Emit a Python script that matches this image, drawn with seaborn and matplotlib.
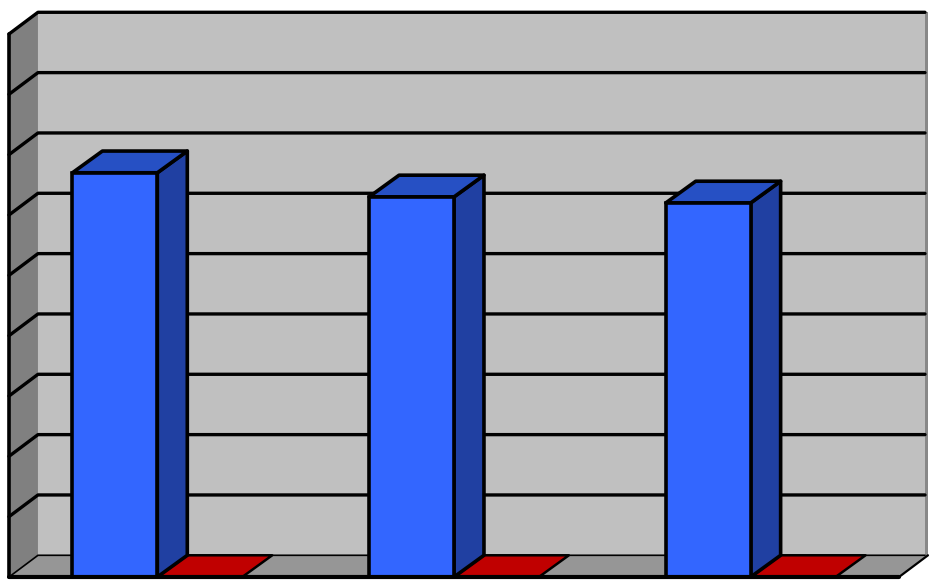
import numpy as np
import pandas as pd
import seaborn as sns
import matplotlib.pyplot as plt

categories = ['A', 'B', 'C']
blue_values = [6.7, 6.3, 6.2]
red_values = [0, 0, 0]
y_ticks = list(range(0, 10))

df = pd.DataFrame({
    'category': categories * 2,
    'series': ['blue'] * 3 + ['red'] * 3,
    'value': blue_values + red_values,
})

W, H = 942, 586
# 3d offset of the back plane, in data units
DX = 30 / 297
DY = 21.7 / 60.3
WALL_DX = 29 / 297

BLUE = '#3366ff'
BLUE_TOP = '#2650c4'
BLUE_SIDE = '#2040a2'
RED_TOP = '#c00000'

sns.set_theme(style='white')
fig = plt.figure(figsize=(W / 100, H / 100), dpi=100, facecolor='white')
ax = fig.add_axes([9 / W, 1 - 577 / H, 890 / W, 543 / H])
ax.set_facecolor('none')


def poly(xs, ys, color, lw=2.6, z=3, edge='black'):
    ax.fill(xs, ys, facecolor=color, edgecolor=edge, linewidth=lw, zorder=z,
            clip_on=False, joinstyle='round')


x0, x1 = -0.5, 2.5
y0, y1 = y_ticks[0], y_ticks[-1]
wall_right = x1 + WALL_DX
grid_right = wall_right - 3 / 297

# back wall, left wall, floor
poly([x0 + WALL_DX, wall_right, wall_right, x0 + WALL_DX], [y0 + DY, y0 + DY, y1 + DY, y1 + DY], '#888888', 0, 1, 'none')
poly([x0 + WALL_DX, grid_right, grid_right, x0 + WALL_DX], [y0 + DY, y0 + DY, y1 + DY, y1 + DY], '#c0c0c0', 0, 1, 'none')
poly([x0, x0 + WALL_DX, x0 + WALL_DX, x0], [y0, y0 + DY, y1 + DY, y1], '#808080', 0, 1, 'none')
poly([x0, x1, wall_right, x0 + WALL_DX], [y0, y0, y0 + DY, y0 + DY], '#969696', 0, 1, 'none')

# grid lines on the walls
for t in y_ticks:
    lw = 1.2 if t == y0 else 2.4
    ax.plot([x0, x0 + WALL_DX, grid_right], [t, t + DY, t + DY], color='black', lw=lw, zorder=2,
            clip_on=False, solid_joinstyle='round')
ax.plot([x0, x0], [y0, y1], color='black', lw=2.6, zorder=2, clip_on=False)
ax.plot([x1, wall_right], [y0, y0 + DY], color='black', lw=1.6, zorder=2, clip_on=False)

sns.barplot(data=df, x='category', y='value', hue='series', order=categories,
            palette={'blue': BLUE, 'red': RED_TOP}, width=0.5724, gap=0, dodge=True,
            legend=False, edgecolor='black', linewidth=2.6, saturation=1, zorder=4, ax=ax)

# 3d faces taken from the bars seaborn drew
for container in ax.containers:
    for b in container:
        left, right = b.get_x(), b.get_x() + b.get_width()
        h = b.get_height()
        if h > 0:
            poly([right, right + DX, right + DX, right], [0, DY, h + DY, h], BLUE_SIDE, z=3.5)
            poly([left, right, right + DX, left + DX], [h, h, h + DY, h + DY], BLUE_TOP, z=3.5)
        else:
            b.set_visible(False)
            poly([left, right, right + DX, left + DX], [0, 0, DY, DY], RED_TOP, lw=1.8, z=3)

# front floor edge on top of everything
ax.plot([x0, x1], [y0, y0], color='black', lw=3, zorder=6, clip_on=False)

ax.set_xlim(x0, x1)
ax.set_ylim(y0, y1)
ax.set_xlabel('')
ax.set_ylabel('')
ax.set_xticks([])
ax.set_yticks([])
sns.despine(ax=ax, left=True, bottom=True)

fig.savefig('out.png', dpi=100, facecolor='white')
